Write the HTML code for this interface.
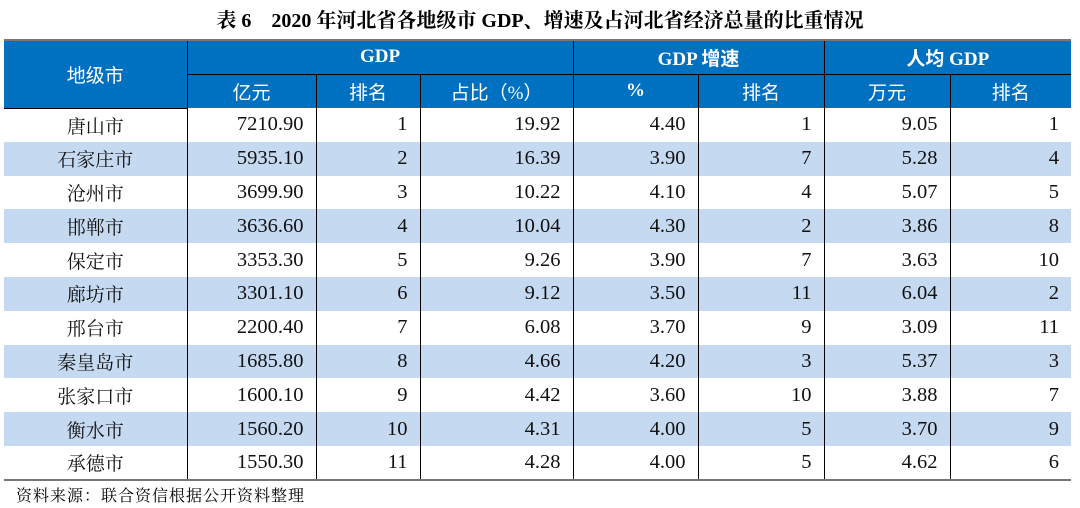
<!DOCTYPE html>
<html><head><meta charset="utf-8"><style>
body{margin:0;width:1080px;height:508px;background:#fff;position:relative;overflow:hidden;font-family:"Liberation Serif","Noto Serif CJK SC",serif;}
.t{position:absolute;left:0;width:1080px;top:4px;text-align:center;font-size:20px;font-weight:bold;color:#000;}
table{position:absolute;left:4px;top:39px;width:1067px;border-collapse:collapse;table-layout:fixed;border-top:2px solid #777;}
td{font-size:20.5px;padding:0 12px 0 8px;height:33.8px;box-sizing:border-box;border-left:1px solid #000;border-right:1px solid #000;text-align:right;color:#111;white-space:nowrap;}
td:first-child{border-left:none;text-align:center;font-family:"Noto Serif CJK SC",serif;font-size:19px;padding:0;}
td:last-child{border-right:none;}
tr.h td{background:#0070c0;color:#fff;text-align:center;height:34px;font-family:"Liberation Serif","Noto Sans CJK SC",sans-serif;font-size:19px;padding:0;}
tr.h1 td{border-bottom:1px solid #000;font-weight:bold;}
tr.a td{background:#c5d9f1;}
tr.last td{border-bottom:2px solid #777;}
.f{position:absolute;left:16px;top:483px;font-size:16px;font-family:"Noto Serif CJK SC",serif;color:#000;letter-spacing:1px;}
</style></head><body>
<div class="t">表 6　2020 年河北省各地级市 GDP、增速及占河北省经济总量的比重情况</div>
<table>
<colgroup><col style="width:183px"><col style="width:129px"><col style="width:104px"><col style="width:153px"><col style="width:125px"><col style="width:126px"><col style="width:126px"><col style="width:121px"></colgroup>
<tr class="h h1"><td rowspan="2" style="font-family:'Noto Sans CJK SC',sans-serif;font-weight:normal;font-size:19px">地级市</td><td colspan="3">GDP</td><td colspan="2">GDP 增速</td><td colspan="2">人均 GDP</td></tr>
<tr class="h"><td>亿元</td><td>排名</td><td>占比（%）</td><td style="font-weight:bold">%</td><td>排名</td><td>万元</td><td>排名</td></tr>
<tr><td>唐山市</td><td>7210.90</td><td>1</td><td>19.92</td><td>4.40</td><td>1</td><td>9.05</td><td>1</td></tr>
<tr class="a"><td>石家庄市</td><td>5935.10</td><td>2</td><td>16.39</td><td>3.90</td><td>7</td><td>5.28</td><td>4</td></tr>
<tr><td>沧州市</td><td>3699.90</td><td>3</td><td>10.22</td><td>4.10</td><td>4</td><td>5.07</td><td>5</td></tr>
<tr class="a"><td>邯郸市</td><td>3636.60</td><td>4</td><td>10.04</td><td>4.30</td><td>2</td><td>3.86</td><td>8</td></tr>
<tr><td>保定市</td><td>3353.30</td><td>5</td><td>9.26</td><td>3.90</td><td>7</td><td>3.63</td><td>10</td></tr>
<tr class="a"><td>廊坊市</td><td>3301.10</td><td>6</td><td>9.12</td><td>3.50</td><td>11</td><td>6.04</td><td>2</td></tr>
<tr><td>邢台市</td><td>2200.40</td><td>7</td><td>6.08</td><td>3.70</td><td>9</td><td>3.09</td><td>11</td></tr>
<tr class="a"><td>秦皇岛市</td><td>1685.80</td><td>8</td><td>4.66</td><td>4.20</td><td>3</td><td>5.37</td><td>3</td></tr>
<tr><td>张家口市</td><td>1600.10</td><td>9</td><td>4.42</td><td>3.60</td><td>10</td><td>3.88</td><td>7</td></tr>
<tr class="a"><td>衡水市</td><td>1560.20</td><td>10</td><td>4.31</td><td>4.00</td><td>5</td><td>3.70</td><td>9</td></tr>
<tr class="last"><td>承德市</td><td>1550.30</td><td>11</td><td>4.28</td><td>4.00</td><td>5</td><td>4.62</td><td>6</td></tr>
</table>
<div class="f">资料来源：联合资信根据公开资料整理</div>
</body></html>
